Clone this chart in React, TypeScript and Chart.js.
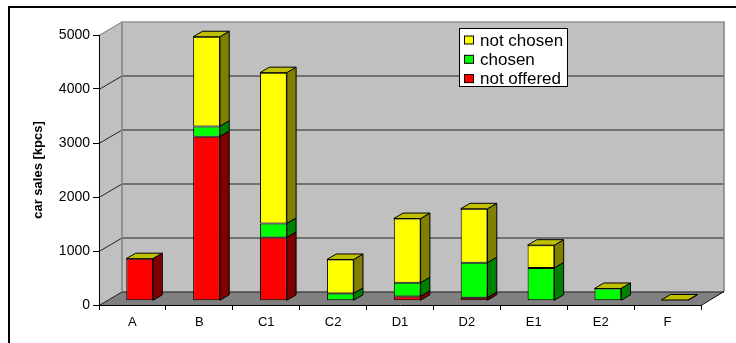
import React, { useEffect, useRef } from "react";
import { Chart, registerables } from "chart.js";

Chart.register(...registerables);

const categories = ["A", "B", "C1", "C2", "D1", "D2", "E1", "E2", "F"];
const notOffered = [780, 3040, 1170, 0, 80, 56, 0, 0, 0];
const chosen = [0, 190, 260, 135, 253, 648, 606, 228, 0];
const notChosen = [0, 1660, 2795, 630, 1190, 1000, 424, 0, 15];
const yTicks = [0, 1000, 2000, 3000, 4000, 5000];

const FONT = "'Liberation Sans', Arial, sans-serif";

// 3D look
const WALL_DX = 23;
const WALL_DY = -13.5;
const BAR_OFF_X = 7.2;
const BAR_OFF_Y = -4.2;
const BAR_DX = 9.3;
const BAR_DY = -5.5;

const sideColors = ["#800000", "#008000", "#808000"];
const topColor = "#c0c000";

const threeD = {
  id: "threeD",
  beforeDraw(chart: any) {
    const { ctx, chartArea } = chart;
    const { left, right, top, bottom } = chartArea;
    const y = chart.scales.y;
    ctx.save();
    ctx.fillStyle = "#ffffff";
    ctx.fillRect(0, 0, chart.width, chart.height);

    // left wall
    ctx.fillStyle = "#c0c0c0";
    ctx.beginPath();
    ctx.moveTo(left, top);
    ctx.lineTo(left + WALL_DX, top + WALL_DY);
    ctx.lineTo(left + WALL_DX, bottom + WALL_DY);
    ctx.lineTo(left, bottom);
    ctx.closePath();
    ctx.fill();
    // back wall
    ctx.fillRect(left + WALL_DX, top + WALL_DY, right - left, bottom - top);
    // floor
    ctx.fillStyle = "#808080";
    ctx.beginPath();
    ctx.moveTo(left, bottom);
    ctx.lineTo(left + WALL_DX, bottom + WALL_DY);
    ctx.lineTo(right + WALL_DX, bottom + WALL_DY);
    ctx.lineTo(right, bottom);
    ctx.closePath();
    ctx.fill();

    // gridlines
    ctx.lineWidth = 1;
    for (const v of yTicks) {
      const py = Math.round(y.getPixelForValue(v)) + 0.5;
      const isEdge = v === 5000;
      ctx.strokeStyle = isEdge ? "#808080" : "#222222";
      ctx.beginPath();
      ctx.moveTo(left, py);
      ctx.lineTo(left + WALL_DX, py + WALL_DY);
      ctx.lineTo(right + WALL_DX, py + WALL_DY);
      ctx.stroke();
    }
    // wall edges
    ctx.strokeStyle = "#808080";
    ctx.lineWidth = 1.5;
    ctx.beginPath();
    ctx.moveTo(left + WALL_DX, bottom + WALL_DY);
    ctx.lineTo(left + WALL_DX, top + WALL_DY);
    ctx.moveTo(right + WALL_DX, top + WALL_DY);
    ctx.lineTo(right + WALL_DX, bottom + WALL_DY);
    ctx.stroke();
    // floor right edge
    ctx.strokeStyle = "#000000";
    ctx.lineWidth = 1;
    ctx.beginPath();
    ctx.moveTo(right, bottom + 0.5);
    ctx.lineTo(right + WALL_DX, bottom + WALL_DY);
    ctx.stroke();
    ctx.restore();
  },
  beforeDatasetsDraw(chart: any) {
    chart.ctx.save();
    chart.ctx.translate(BAR_OFF_X, BAR_OFF_Y);
  },
  afterDatasetDraw(chart: any, args: any) {
    const { ctx } = chart;
    const idx = args.index;
    const last = idx === chart.data.datasets.length - 1;
    ctx.save();
    ctx.lineWidth = 1;
    ctx.strokeStyle = "#000000";
    for (const el of args.meta.data) {
      const w = el.width;
      const l = el.x - w / 2;
      const r = el.x + w / 2;
      const t = Math.min(el.y, el.base);
      const b = Math.max(el.y, el.base);
      if (b - t > 0.01) {
        ctx.fillStyle = sideColors[idx];
        ctx.beginPath();
        ctx.moveTo(r, t);
        ctx.lineTo(r + BAR_DX, t + BAR_DY);
        ctx.lineTo(r + BAR_DX, b + BAR_DY);
        ctx.lineTo(r, b);
        ctx.closePath();
        ctx.fill();
        ctx.stroke();
      }
      if (last) {
        ctx.fillStyle = topColor;
        ctx.beginPath();
        ctx.moveTo(l, t);
        ctx.lineTo(l + BAR_DX, t + BAR_DY);
        ctx.lineTo(r + BAR_DX, t + BAR_DY);
        ctx.lineTo(r, t);
        ctx.closePath();
        ctx.fill();
        ctx.stroke();
      }
    }
    ctx.restore();
  },
  afterDatasetsDraw(chart: any) {
    chart.ctx.restore();
  },
  afterDraw(chart: any) {
    const { ctx } = chart;
    ctx.save();
    // outer border
    ctx.strokeStyle = "#000000";
    ctx.lineWidth = 2;
    ctx.strokeRect(9, 7, 900, 500);

    // legend
    const lx = 459.5, ly = 28.5, lw = 108, lh = 58;
    ctx.fillStyle = "#ffffff";
    ctx.fillRect(lx, ly, lw, lh);
    ctx.lineWidth = 1;
    ctx.strokeStyle = "#000000";
    ctx.strokeRect(lx, ly, lw, lh);
    const ds = chart.data.datasets;
    ctx.font = `17px ${FONT}`;
    ctx.textBaseline = "alphabetic";
    ctx.textAlign = "left";
    for (let i = 0; i < ds.length; i++) {
      const d = ds[ds.length - 1 - i];
      const cy = 40 + i * 19.3;
      ctx.fillStyle = d.backgroundColor;
      ctx.fillRect(464.5, cy - 4, 9, 8);
      ctx.strokeRect(464.5, cy - 4, 9, 8);
      ctx.fillStyle = "#000000";
      ctx.fillText(d.label, 480, cy + 5.5);
    }
    ctx.restore();
  },
};

export default function App() {
  const ref = useRef<HTMLCanvasElement | null>(null);
  useEffect(() => {
    if (!ref.current) return;
    const chart = new Chart(ref.current, {
      type: "bar",
      data: {
        labels: categories,
        datasets: [
          { label: "not offered", data: notOffered, backgroundColor: "#ff0000" },
          { label: "chosen", data: chosen, backgroundColor: "#00ff00" },
          { label: "not chosen", data: notChosen, backgroundColor: "#ffff00" },
        ].map((d) => ({
          ...d,
          borderColor: "#000000",
          borderWidth: 1,
          borderSkipped: false,
          barPercentage: 0.4,
          categoryPercentage: 1.0,
          clip: false as any,
        })),
      },
      options: {
        animation: false,
        responsive: false,
        devicePixelRatio: 1,
        layout: { padding: { top: 35, right: 35, left: 0, bottom: 0 } },
        plugins: { legend: { display: false }, tooltip: { enabled: false } },
        scales: {
          x: {
            stacked: true,
            offset: true,
            grid: {
              display: true,
              drawOnChartArea: false,
              drawTicks: true,
              tickLength: 5,
              color: "#000000",
              offset: true,
            },
            border: { display: true, color: "#000000", width: 1 },
            ticks: { color: "#000000", font: { family: FONT, size: 13 }, padding: 5 },
            afterFit: (s: any) => {
              s.height = 38;
            },
          },
          y: {
            stacked: true,
            min: 0,
            max: 5000,
            afterBuildTicks: (s: any) => {
              s.ticks = yTicks.map((v) => ({ value: v }));
            },
            grid: {
              display: true,
              drawOnChartArea: false,
              drawTicks: true,
              tickLength: 6,
              color: "#000000",
            },
            border: { display: true, color: "#000000", width: 1 },
            ticks: {
              color: "#000000",
              font: { family: FONT, size: 14 },
              padding: 3,
              callback: (v: any) => String(v),
            },
            title: {
              display: true,
              text: "car sales [kpcs]",
              color: "#000000",
              font: { family: FONT, size: 13, weight: "bold" },
              padding: { top: 31, bottom: 0 },
            },
            afterFit: (s: any) => {
              s.width = 99;
            },
          },
        },
      },
      plugins: [threeD],
    });
    return () => chart.destroy();
  }, []);
  return (
    <div style={{ position: "absolute", left: 0, top: 0, width: 736, height: 343 }}>
      <canvas ref={ref} width={736} height={343} style={{ width: 736, height: 343, display: "block" }} />
    </div>
  );
}
